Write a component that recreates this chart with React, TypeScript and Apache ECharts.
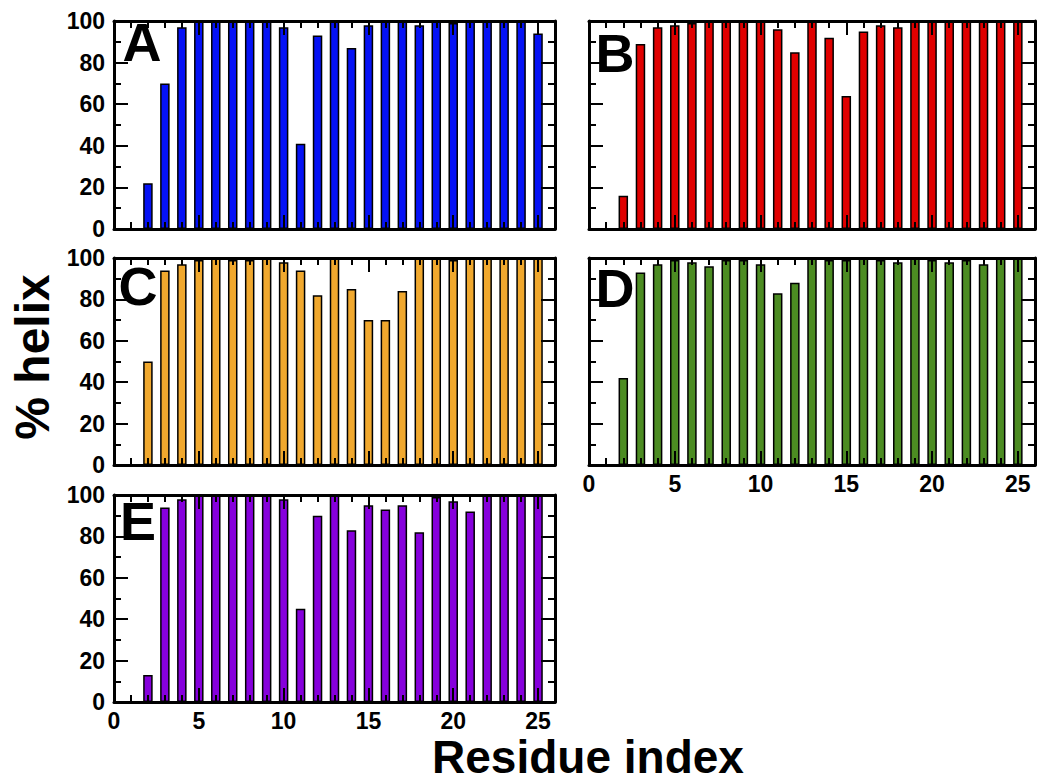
import React, { useEffect, useRef } from "react";
import * as echarts from "echarts";

// ---- data ----
const residues = [2, 3, 4, 5, 6, 7, 8, 9, 10, 11, 12, 13, 14, 15, 16, 17, 18, 19, 20, 21, 22, 23, 24, 25];
const helixA = [22, 70, 97, 100, 100, 100, 100, 100, 97, 41, 93, 100, 87, 98, 100, 100, 98, 100, 99, 100, 100, 100, 100, 94];
const helixB = [16, 89, 97, 98, 99, 100, 100, 100, 100, 96, 85, 100, 92, 64, 95, 98, 97, 100, 100, 100, 100, 100, 100, 100];
const helixC = [50, 94, 97, 99, 100, 99, 99, 100, 98, 94, 82, 100, 85, 70, 70, 84, 100, 100, 99, 100, 100, 100, 100, 100];
const helixD = [42, 93, 97, 99, 98, 96, 99, 99, 97, 83, 88, 100, 99, 99, 100, 99, 98, 100, 99, 98, 99, 97, 100, 100];
const helixE = [13, 94, 98, 100, 100, 100, 100, 100, 98, 45, 90, 100, 83, 95, 93, 95, 82, 99, 97, 92, 100, 100, 100, 100];
const panelLetters = ["A", "B", "C", "D", "E"];
const panelValues = [helixA, helixB, helixC, helixD, helixE];
const panelColors = ["#0512f5", "#e00000", "#f0a82e", "#4c8c22", "#8600dc"];
const xTickLabels = [0, 5, 10, 15, 20, 25];
const yTickLabels = [0, 20, 40, 60, 80, 100];
const xAxisTitle = "Residue index";
const yAxisTitle = "% helix";

// ---- layout ----
const layouts = [
  { grid: { left: 114, top: 21, width: 441, height: 208 }, showX: false, showY: true, letter: [142, 42] },
  { grid: { left: 589, top: 21, width: 446, height: 208 }, showX: false, showY: false, letter: [615, 53] },
  { grid: { left: 114, top: 258, width: 441, height: 207 }, showX: false, showY: true, letter: [138, 286] },
  { grid: { left: 589, top: 258, width: 446, height: 207 }, showX: true, showY: false, letter: [615, 288] },
  { grid: { left: 114, top: 495, width: 441, height: 207 }, showX: true, showY: true, letter: [138, 521] },
];

const FONT = "'Liberation Sans', Arial, Helvetica, sans-serif";
const black = "#000";

function buildOption() {
  const grid: any[] = [];
  const xAxis: any[] = [];
  const yAxis: any[] = [];
  const series: any[] = [];
  const graphic: any[] = [];

  layouts.forEach((lay, i) => {
    grid.push({ ...lay.grid, show: false });
    const tickStyle = { color: black, width: 2 };
    const xBase = {
      type: "value",
      gridIndex: i,
      min: 0,
      max: 26,
      z: 4,
      splitLine: { show: false },
      minorSplitLine: { show: false },
    };
    const xi = xAxis.length;
    // bottom major
    xAxis.push({
      ...xBase,
      position: "bottom",
      interval: 5,
      axisLine: { show: true, onZero: false, lineStyle: { color: black, width: 3 } },
      axisTick: { show: true, inside: true, length: 14, lineStyle: tickStyle },
      axisLabel: {
        show: lay.showX,
        margin: 7,
        color: black,
        fontFamily: FONT,
        fontWeight: "bold",
        fontSize: 23,
        formatter: (v: number) => (xTickLabels.includes(v) ? String(v) : ""),
      },
    });
    // bottom minor
    xAxis.push({
      ...xBase,
      position: "bottom",
      interval: 1,
      axisLine: { show: false, onZero: false },
      axisTick: { show: true, inside: true, length: 7, lineStyle: tickStyle },
      axisLabel: { show: false },
    });
    // top major
    xAxis.push({
      ...xBase,
      position: "top",
      interval: 5,
      axisLine: { show: true, onZero: false, lineStyle: { color: black, width: 3 } },
      axisTick: { show: true, inside: true, length: 14, lineStyle: tickStyle },
      axisLabel: { show: false },
    });
    // top minor
    xAxis.push({
      ...xBase,
      position: "top",
      interval: 1,
      axisLine: { show: false, onZero: false },
      axisTick: { show: true, inside: true, length: 7, lineStyle: tickStyle },
      axisLabel: { show: false },
    });

    const yi = yAxis.length;
    const yBase = {
      type: "value",
      gridIndex: i,
      min: 0,
      max: 100,
      interval: 20,
      z: 4,
      axisLine: { show: true, onZero: false, lineStyle: { color: black, width: 3 } },
      axisTick: { show: true, inside: true, length: 14, lineStyle: tickStyle },
      minorTick: { show: true, splitNumber: 2, length: 7, lineStyle: tickStyle },
      splitLine: { show: false },
      minorSplitLine: { show: false },
    };
    yAxis.push({
      ...yBase,
      position: "left",
      axisLabel: {
        show: lay.showY,
        margin: 9,
        color: black,
        fontFamily: FONT,
        fontWeight: "bold",
        fontSize: 23,
        formatter: (v: number) => (yTickLabels.includes(v) ? String(v) : ""),
      },
    });
    yAxis.push({ ...yBase, position: "right", axisLabel: { show: false } });

    series.push({
      type: "bar",
      name: panelLetters[i],
      xAxisIndex: xi,
      yAxisIndex: yi,
      barWidth: 9.5,
      z: 2,
      itemStyle: { color: panelColors[i], borderColor: black, borderWidth: 1.5 },
      data: residues.map((r, k) => [r, panelValues[i][k]]),
    });

    graphic.push({
      type: "text",
      x: lay.letter[0],
      y: lay.letter[1],
      z: 10,
      style: {
        text: panelLetters[i],
        fill: black,
        font: `bold 54px ${FONT}`,
        textAlign: "center",
        textVerticalAlign: "middle",
      },
    });
  });

  graphic.push({
    type: "text",
    x: 588,
    y: 757,
    style: {
      text: xAxisTitle,
      fill: black,
      font: `bold 46px ${FONT}`,
      textAlign: "center",
      textVerticalAlign: "middle",
    },
  });
  graphic.push({
    type: "text",
    x: 32,
    y: 357,
    rotation: Math.PI / 2,
    style: {
      text: yAxisTitle,
      fill: black,
      font: `bold 48px ${FONT}`,
      textAlign: "center",
      textVerticalAlign: "middle",
    },
  });

  return {
    animation: false,
    backgroundColor: "#fff",
    grid,
    xAxis,
    yAxis,
    series,
    graphic,
  };
}

export default function App() {
  const ref = useRef<HTMLDivElement>(null);
  useEffect(() => {
    if (!ref.current) return;
    const chart = echarts.init(ref.current, null, { renderer: "svg" });
    chart.setOption(buildOption() as any);
    return () => chart.dispose();
  }, []);
  return (
    <div
      ref={ref}
      style={{ position: "absolute", left: 0, top: 0, width: 1050, height: 783 }}
    />
  );
}
